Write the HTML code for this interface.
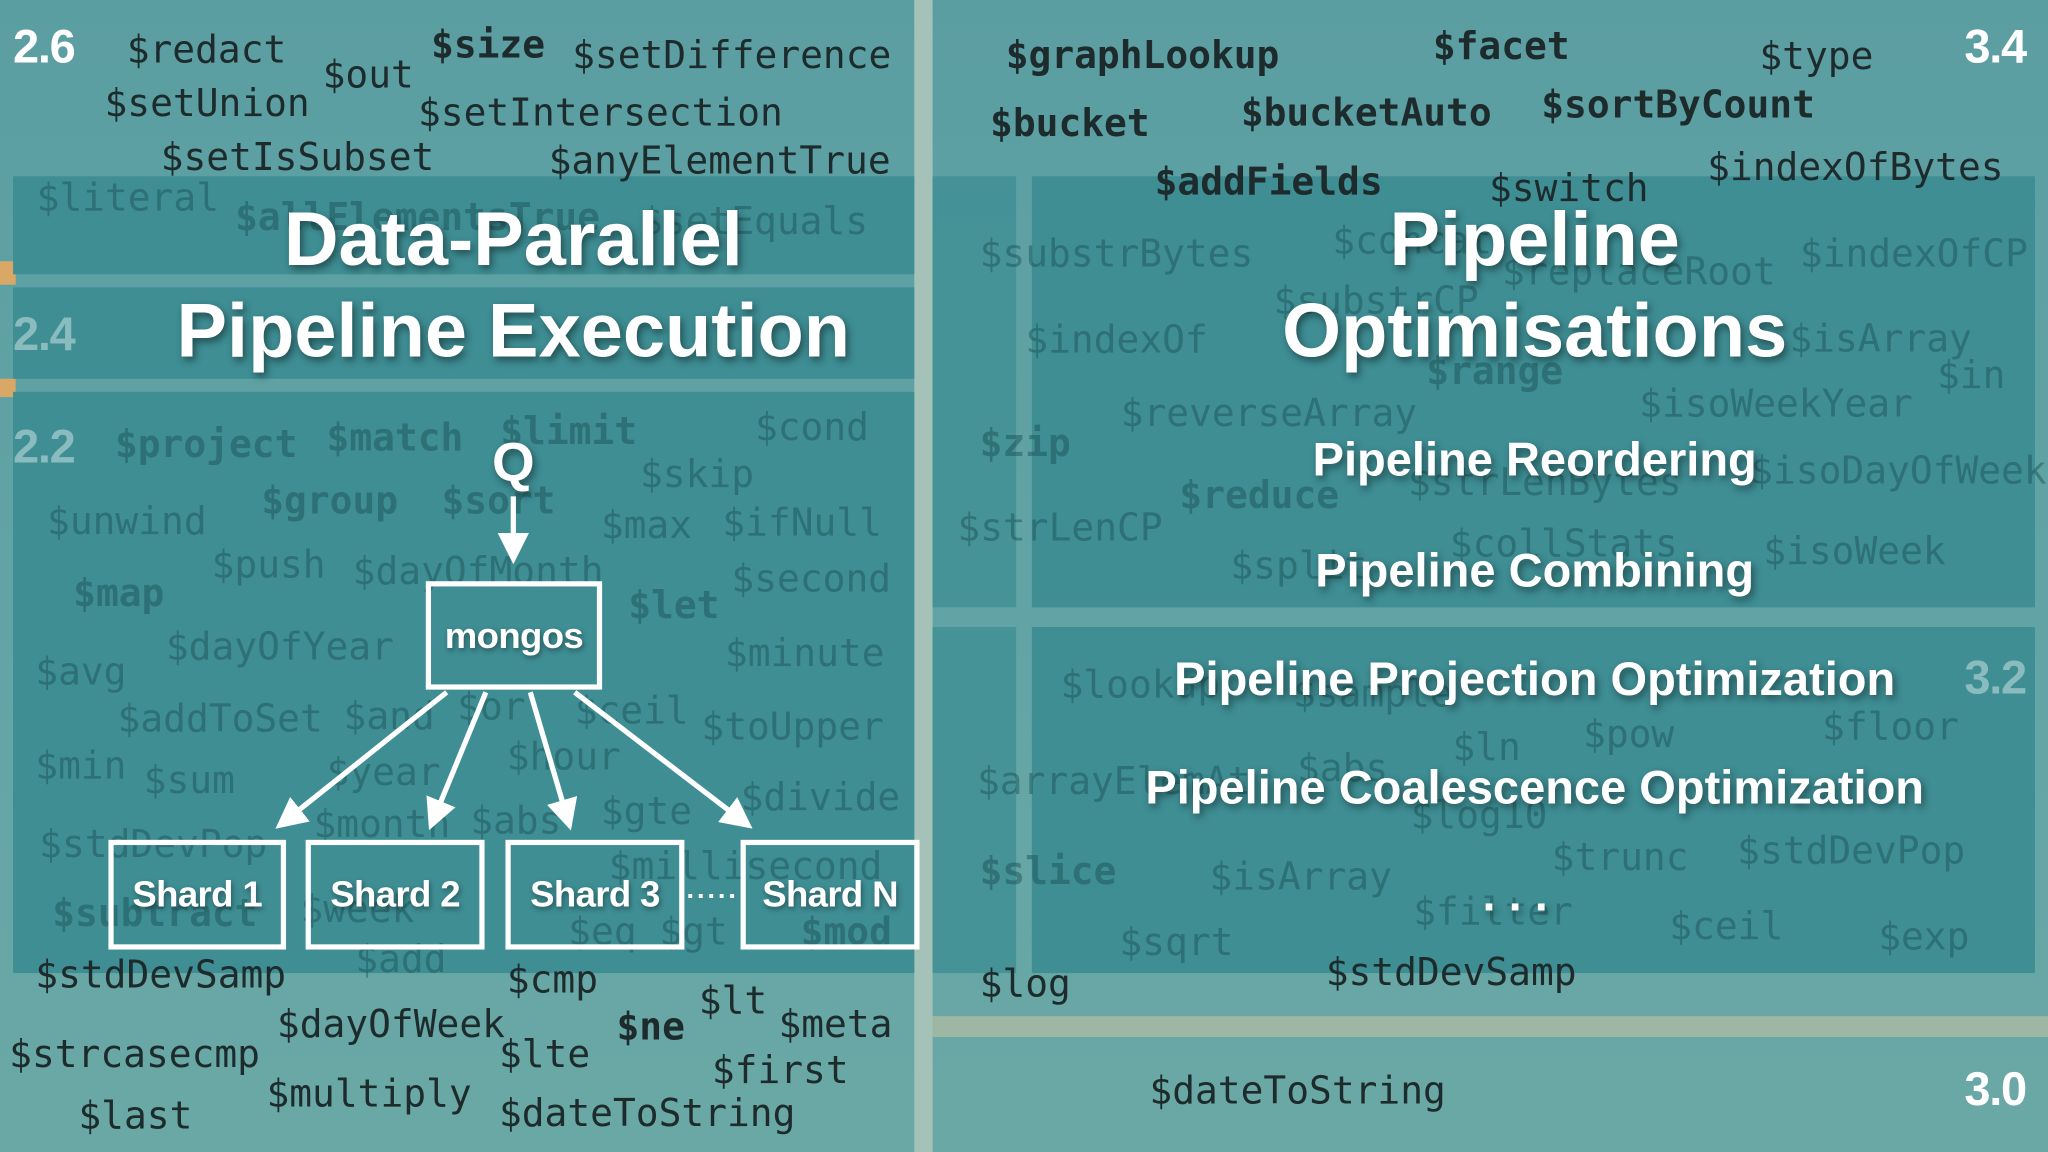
<!DOCTYPE html>
<html><head><meta charset="utf-8"><style>
html,body{margin:0;padding:0;width:2048px;height:1152px;overflow:hidden;background:#5e9fa2}
#s{position:absolute;left:0;top:0;width:1568px;height:882px;transform:scale(1.306122);transform-origin:0 0;background:linear-gradient(180deg,#5b9ea2 0%,#63a5a6 60%,#6aa8a5 100%)}
.p{position:absolute;background:#3e8e94}
.w{position:absolute;font-family:"DejaVu Sans Mono","Liberation Mono",monospace;font-size:29px;line-height:32px;white-space:nowrap;color:#1d2b2c}
.f{color:rgba(25,75,80,0.45)}
.b{font-weight:bold}
.t{position:absolute;font-family:"Liberation Sans",sans-serif;font-weight:bold;color:#fff;white-space:nowrap;text-shadow:2px 3px 6px rgba(0,0,0,0.45);transform:translateX(-50%)}
.v{position:absolute;font-family:"Liberation Sans",sans-serif;font-weight:bold;font-size:36px;color:#fff;letter-spacing:-1px}
.box{position:absolute;border:4px solid #fff;box-sizing:border-box;color:#fff;font-family:"Liberation Sans",sans-serif;font-weight:bold;font-size:28px;display:flex;align-items:center;justify-content:center;text-shadow:1px 2px 4px rgba(0,0,0,0.4);letter-spacing:-0.5px}
</style></head><body><div id="s">
<div style="position:absolute;left:700px;top:0;width:14px;height:882px;background:#a5c2b9"></div>
<div style="position:absolute;left:714px;top:778px;width:854px;height:16px;background:#c9c5a4;opacity:.55"></div>
<div style="position:absolute;left:0;top:200px;width:12px;height:18px;background:#d9a867"></div>
<div style="position:absolute;left:0;top:290px;width:12px;height:14px;background:#d9a867"></div>

<div class="p" style="left:10px;top:135px;width:690px;height:75px"></div>
<div class="p" style="left:10px;top:220px;width:690px;height:70px"></div>
<div class="p" style="left:10px;top:300px;width:690px;height:445px"></div>
<div class="p" style="left:714px;top:135px;width:64px;height:330px;opacity:.8"></div>
<div class="p" style="left:714px;top:480px;width:64px;height:265px;opacity:.8"></div>
<div class="p" style="left:790px;top:135px;width:768px;height:330px"></div>
<div class="p" style="left:790px;top:480px;width:768px;height:265px"></div>

<div class="w" style="left:97px;top:22px">$redact</div>
<div class="w" style="left:247px;top:41px">$out</div>
<div class="w b" style="left:330px;top:18px">$size</div>
<div class="w" style="left:438px;top:26px">$setDifference</div>
<div class="w" style="left:80px;top:63px">$setUnion</div>
<div class="w" style="left:320px;top:70px">$setIntersection</div>
<div class="w" style="left:123px;top:104px">$setIsSubset</div>
<div class="w" style="left:420px;top:107px">$anyElementTrue</div>
<div class="w b" style="left:770px;top:26px">$graphLookup</div>
<div class="w b" style="left:1097px;top:19px">$facet</div>
<div class="w" style="left:1347px;top:27px">$type</div>
<div class="w b" style="left:758px;top:78px">$bucket</div>
<div class="w b" style="left:950px;top:70px">$bucketAuto</div>
<div class="w b" style="left:1180px;top:64px">$sortByCount</div>
<div class="w" style="left:1307px;top:112px">$indexOfBytes</div>
<div class="w b" style="left:884px;top:123px">$addFields</div>
<div class="w" style="left:1140px;top:128px">$switch</div>
<div class="w" style="left:27px;top:730px">$stdDevSamp</div>
<div class="w" style="left:388px;top:734px">$cmp</div>
<div class="w" style="left:535px;top:750px">$lt</div>
<div class="w" style="left:212px;top:768px">$dayOfWeek</div>
<div class="w b" style="left:472px;top:770px">$ne</div>
<div class="w" style="left:596px;top:768px">$meta</div>
<div class="w" style="left:7px;top:791px">$strcasecmp</div>
<div class="w" style="left:382px;top:791px">$lte</div>
<div class="w" style="left:545px;top:803px">$first</div>
<div class="w" style="left:204px;top:821px">$multiply</div>
<div class="w" style="left:60px;top:838px">$last</div>
<div class="w" style="left:382px;top:836px">$dateToString</div>
<div class="w" style="left:750px;top:737px">$log</div>
<div class="w" style="left:1015px;top:728px">$stdDevSamp</div>
<div class="w" style="left:880px;top:819px">$dateToString</div>

<div class="w f" style="left:28px;top:135px">$literal</div>
<div class="w f b" style="left:180px;top:150px">$allElementsTrue</div>
<div class="w f" style="left:490px;top:153px">$setEquals</div>
<div class="w f b" style="left:88px;top:324px">$project</div>
<div class="w f b" style="left:250px;top:319px">$match</div>
<div class="w f b" style="left:383px;top:314px">$limit</div>
<div class="w f" style="left:578px;top:311px">$cond</div>
<div class="w f" style="left:490px;top:347px">$skip</div>
<div class="w f b" style="left:200px;top:367px">$group</div>
<div class="w f b" style="left:338px;top:367px">$sort</div>
<div class="w f" style="left:36px;top:383px">$unwind</div>
<div class="w f" style="left:460px;top:386px">$max</div>
<div class="w f" style="left:553px;top:384px">$ifNull</div>
<div class="w f" style="left:162px;top:416px">$push</div>
<div class="w f" style="left:270px;top:421px">$dayOfMonth</div>
<div class="w f" style="left:560px;top:427px">$second</div>
<div class="w f b" style="left:56px;top:438px">$map</div>
<div class="w f b" style="left:481px;top:447px">$let</div>
<div class="w f" style="left:127px;top:479px">$dayOfYear</div>
<div class="w f" style="left:555px;top:484px">$minute</div>
<div class="w f" style="left:27px;top:498px">$avg</div>
<div class="w f" style="left:90px;top:534px">$addToSet</div>
<div class="w f" style="left:263px;top:532px">$and</div>
<div class="w f" style="left:350px;top:525px">$or</div>
<div class="w f" style="left:440px;top:528px">$ceil</div>
<div class="w f" style="left:537px;top:540px">$toUpper</div>
<div class="w f" style="left:27px;top:570px">$min</div>
<div class="w f" style="left:110px;top:581px">$sum</div>
<div class="w f" style="left:250px;top:575px">$year</div>
<div class="w f" style="left:388px;top:563px">$hour</div>
<div class="w f" style="left:567px;top:594px">$divide</div>
<div class="w f" style="left:30px;top:630px">$stdDevPop</div>
<div class="w f" style="left:240px;top:615px">$month</div>
<div class="w f" style="left:360px;top:612px">$abs</div>
<div class="w f" style="left:460px;top:605px">$gte</div>
<div class="w f" style="left:466px;top:647px">$millisecond</div>
<div class="w f b" style="left:40px;top:683px">$subtract</div>
<div class="w f" style="left:230px;top:680px">$week</div>
<div class="w f" style="left:435px;top:697px">$eq $gt</div>
<div class="w f b" style="left:613px;top:697px">$mod</div>
<div class="w f" style="left:272px;top:718px">$add</div>

<div class="w f" style="left:750px;top:178px">$substrBytes</div>
<div class="w f" style="left:1020px;top:168px">$concat</div>
<div class="w f" style="left:1150px;top:192px">$replaceRoot</div>
<div class="w f" style="left:1378px;top:178px">$indexOfCP</div>
<div class="w f" style="left:975px;top:214px">$substrCP</div>
<div class="w f" style="left:785px;top:244px">$indexOf</div>
<div class="w f" style="left:1370px;top:243px">$isArray</div>
<div class="w f b" style="left:1092px;top:268px">$range</div>
<div class="w f" style="left:1483px;top:271px">$in</div>
<div class="w f" style="left:1255px;top:293px">$isoWeekYear</div>
<div class="w f" style="left:858px;top:300px">$reverseArray</div>
<div class="w f b" style="left:750px;top:323px">$zip</div>
<div class="w f" style="left:1340px;top:344px">$isoDayOfWeek</div>
<div class="w f b" style="left:903px;top:363px">$reduce</div>
<div class="w f" style="left:1078px;top:353px">$strLenBytes</div>
<div class="w f" style="left:733px;top:388px">$strLenCP</div>
<div class="w f" style="left:1110px;top:400px">$collStats</div>
<div class="w f" style="left:1350px;top:406px">$isoWeek</div>
<div class="w f" style="left:942px;top:417px">$split</div>
<div class="w f" style="left:812px;top:508px">$lookup</div>
<div class="w f" style="left:990px;top:515px">$sample</div>
<div class="w f" style="left:1112px;top:556px">$ln</div>
<div class="w f" style="left:1212px;top:546px">$pow</div>
<div class="w f" style="left:1395px;top:540px">$floor</div>
<div class="w f" style="left:748px;top:582px">$arrayElemAt</div>
<div class="w f" style="left:993px;top:572px">$abs</div>
<div class="w f" style="left:1080px;top:608px">$log10</div>
<div class="w f b" style="left:750px;top:651px">$slice</div>
<div class="w f" style="left:926px;top:655px">$isArray</div>
<div class="w f" style="left:1188px;top:640px">$trunc</div>
<div class="w f" style="left:1330px;top:635px">$stdDevPop</div>
<div class="w f" style="left:1082px;top:682px">$filter</div>
<div class="w f" style="left:1278px;top:693px">$ceil</div>
<div class="w f" style="left:1438px;top:701px">$exp</div>
<div class="w f" style="left:857px;top:705px">$sqrt</div>

<div class="v" style="left:10px;top:15px">2.6</div>
<div class="v" style="left:1504px;top:15px">3.4</div>
<div class="v" style="left:10px;top:235px;color:rgba(200,225,225,0.55)">2.4</div>
<div class="v" style="left:10px;top:321px;color:rgba(200,225,225,0.55)">2.2</div>
<div class="v" style="left:1504px;top:498px;color:rgba(200,225,225,0.55)">3.2</div>
<div class="v" style="left:1504px;top:813px">3.0</div>

<div class="t" style="left:393px;top:150px;font-size:58px">Data-Parallel</div>
<div class="t" style="left:393px;top:220px;font-size:58px">Pipeline Execution</div>
<div class="t" style="left:1175px;top:150px;font-size:58px">Pipeline</div>
<div class="t" style="left:1175px;top:220px;font-size:58px">Optimisations</div>
<div class="t" style="left:1175px;top:331px;font-size:36px">Pipeline Reordering</div>
<div class="t" style="left:1175px;top:416px;font-size:36px">Pipeline Combining</div>
<div class="t" style="left:1175px;top:499px;font-size:36px">Pipeline Projection Optimization</div>
<div class="t" style="left:1175px;top:582px;font-size:36px">Pipeline Coalescence Optimization</div>
<div class="t" style="left:1160px;top:664px;font-size:36px">. . .</div>
<div class="t" style="left:393px;top:330px;font-size:42px">Q</div>

<svg style="position:absolute;left:0;top:0" width="1568" height="882">
<defs><marker id="a" markerWidth="6" markerHeight="6" refX="5" refY="3" orient="auto" markerUnits="strokeWidth"><path d="M0,0 L6,3 L0,6 Z" fill="#fff"/></marker></defs>
<g stroke="#fff" stroke-width="4" fill="none">
<line x1="393" y1="380" x2="393" y2="428" marker-end="url(#a)"/>
<line x1="342" y1="530" x2="214" y2="632" marker-end="url(#a)"/>
<line x1="372" y1="530" x2="330" y2="632" marker-end="url(#a)"/>
<line x1="406" y1="530" x2="436" y2="632" marker-end="url(#a)"/>
<line x1="440" y1="530" x2="573" y2="632" marker-end="url(#a)"/>
<line x1="527" y1="686" x2="565" y2="686" stroke-dasharray="3 5" stroke-width="3"/>
</g></svg>
<div class="box" style="left:326px;top:445px;width:135px;height:83px">mongos</div>
<div class="box" style="left:83px;top:643px;width:136px;height:84px">Shard 1</div>
<div class="box" style="left:234px;top:643px;width:137px;height:84px">Shard 2</div>
<div class="box" style="left:387px;top:643px;width:137px;height:84px">Shard 3</div>
<div class="box" style="left:567px;top:643px;width:137px;height:84px">Shard N</div>
</div></body></html>
